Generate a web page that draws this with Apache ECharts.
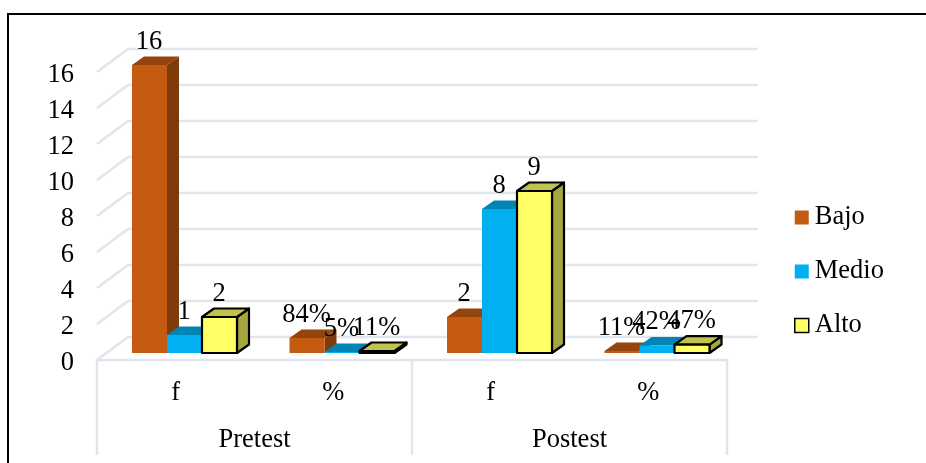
<!DOCTYPE html>
<html><head><meta charset="utf-8">
<style>html,body{margin:0;padding:0;background:#fff}#c{width:926px;height:463px}</style>
<script src="https://cdn.jsdelivr.net/npm/echarts@6/dist/echarts.min.js"></script>
</head><body><div id="c"></div>
<script>
const subCategories = ['f', '%', 'f', '%'];
const groupCategories = ['Pretest', 'Postest'];
const seriesNames = ['Bajo', 'Medio', 'Alto'];
const bajo = [16, 0.84, 2, 0.11];
const medio = [1, 0.05, 8, 0.42];
const alto = [2, 0.11, 9, 0.47];
const bajoLabels = ['16', '84%', '2', '11%'];
const medioLabels = ['1', '5%', '8', '42%'];
const altoLabels = ['2', '11%', '9', '47%'];
const yTicks = [0, 2, 4, 6, 8, 10, 12, 14, 16];

const FONT = '"Liberation Serif","Times New Roman",serif';
const FS = 26.5;
const GRID = '#e2e5ed';
const DEPTH_X = 31, DEPTH_Y = 23;
const BAR_LIFT = 7;
const BAR_W = 35, SIDE_X = 12, SIDE_Y = 8.5;

const looks = [
  {front: '#C55A11', top: '#96440D', side: '#7F3B0A', stroke: null},
  {front: '#00B0F0', top: '#0085B5', side: '#00739E', stroke: null},
  {front: '#FFFF66', top: '#C2C24E', side: '#A6A63E', stroke: '#000'}
];

function barRender(si, labels) {
  return function (params, api) {
    const cat = api.value(0), val = api.value(1);
    const c0 = api.coord([cat, 0]), c1 = api.coord([cat, val]);
    const L = looks[si];
    const x = c0[0] - 43.75 + si * BAR_W, base = c0[1] - BAR_LIFT, top = c1[1] - BAR_LIFT;
    const r = x + BAR_W;
    const ln = L.stroke ? {stroke: L.stroke, lineWidth: 2.2, lineJoin: 'round'} : {stroke: null};
    const poly = (pts, fill) => ({type: 'polygon', shape: {points: pts}, style: Object.assign({fill}, ln)});
    return {type: 'group', children: [
      poly([[r, base], [r + SIDE_X, base - SIDE_Y], [r + SIDE_X, top - SIDE_Y], [r, top]], L.side),
      poly([[x, top], [x + SIDE_X, top - SIDE_Y], [r + SIDE_X, top - SIDE_Y], [r, top]], L.top),
      poly([[x, base], [r, base], [r, top], [x, top]], L.front),
      {type: 'text', z2: 50, style: {x: x + BAR_W / 2 - 0.5, y: top - SIDE_Y - 14.5, text: labels[cat],
        font: FS + 'px ' + FONT, fill: '#000', align: 'center', verticalAlign: 'middle'}}
    ]};
  };
}

function wallRender(params, api) {
  const v = api.value(0), cs = params.coordSys;
  const y = api.coord([0, v])[1], x0 = cs.x;
  const st = {stroke: GRID, lineWidth: 2.4};
  return {type: 'group', children: [
    {type: 'line', shape: {x1: x0, y1: y, x2: x0 + DEPTH_X, y2: y - DEPTH_Y}, style: st},
    {type: 'line', shape: {x1: x0 + DEPTH_X, y1: y - DEPTH_Y, x2: cs.x + cs.width + DEPTH_X, y2: y - DEPTH_Y}, style: st}
  ]};
}

const barData = [bajo, medio, alto];
const barLabels = [bajoLabels, medioLabels, altoLabels];

const chart = echarts.init(document.getElementById('c'), null, {renderer: 'canvas'});
chart.setOption({
  animation: false,
  backgroundColor: '#fff',
  textStyle: {fontFamily: FONT},
  grid: {left: 97, right: 199, top: 72, bottom: 103},
  legend: {
    orient: 'vertical', left: 789, top: 199, icon: 'rect', itemWidth: 14, itemHeight: 14, itemGap: 27,
    textStyle: {fontFamily: FONT, fontSize: FS, color: '#000', padding: [0, 0, 0, 1]},
    data: [
      {name: 'Bajo'}, {name: 'Medio'},
      {name: 'Alto', itemStyle: {borderColor: '#000', borderWidth: 1.5}}
    ]
  },
  xAxis: [
    {type: 'category', data: subCategories, position: 'bottom',
      axisLine: {show: true, lineStyle: {color: GRID, width: 2.4}},
      axisTick: {show: false},
      axisLabel: {color: '#000', fontFamily: FONT, fontSize: FS, margin: 20}},
    {type: 'category', data: groupCategories, position: 'bottom',
      axisLine: {show: false},
      axisTick: {show: true, length: 95, lineStyle: {color: GRID, width: 2.4}},
      axisLabel: {color: '#000', fontFamily: FONT, fontSize: FS, margin: 67}}
  ],
  yAxis: {
    type: 'value', min: 0, max: 16, interval: 2,
    axisLine: {show: false}, axisTick: {show: false}, splitLine: {show: false},
    axisLabel: {color: '#000', fontFamily: FONT, fontSize: FS, margin: 23, verticalAlign: 'top', lineHeight: 6}
  },
  graphic: [{type: 'rect', silent: true, z: -1,
    shape: {x: 8, y: 14, width: 930, height: 470}, style: {fill: null, stroke: '#000', lineWidth: 2}}],
  series: [
    {type: 'custom', name: '_wall', silent: true, z: 1, renderItem: wallRender, coordinateSystem: 'cartesian2d',
      data: yTicks.map(v => [v]), encode: {x: -1, y: 0}, clip: false, legendHoverLink: false}
  ].concat(seriesNames.map((n, si) => ({
    type: 'custom', name: n, z: 2 + si, coordinateSystem: 'cartesian2d', clip: false,
    itemStyle: {color: looks[si].front},
    renderItem: barRender(si, barLabels[si]),
    encode: {x: 0, y: 1},
    data: subCategories.map((_, i) => [i, barData[si][i]])
  })))
});
</script></body></html>
